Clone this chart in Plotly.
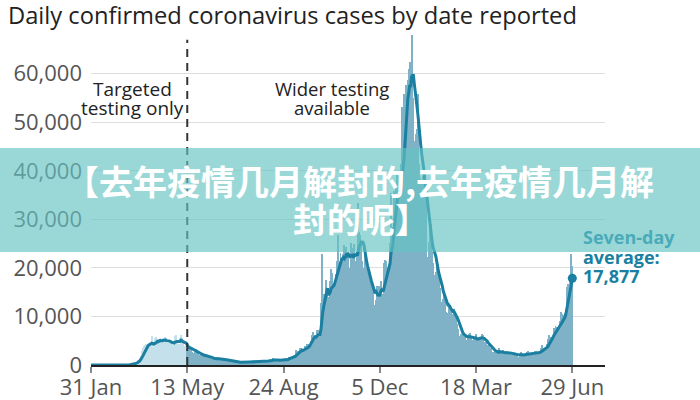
import pandas as pd
import plotly.graph_objects as go

# ---------------- data (daily confirmed cases by date reported) ----------------
jan2020 = [2]
feb2020 = [0,0,0,0,0,1,1,0,4,0, 0,1,0,0,0,0,0,0,0,0, 0,0,0,0,4,0,2,5,3]
mar2020 = [13,4,11,34,30,48,43,67,46,50, 83,134,117,208,342,251,152,407,676,643,
           1035,1100,1500,1900,2300,2900,3500,3900,4100,4300, 4400]
apr2020 = [4324,4244,4450,3735,5903,3802,3634,5491,4344,5706, 5233,5288,4342,5252,4603,4617,5599,5525,5850,4676,
           4301,4451,4583,5386,4913,4463,4309,3996,4076,6032]
may2020 = [6201,4806,4339,3985,4406,6111,5614,4649,3896,3923, 3877,3403,3242,3446,3560,3451,3142,2684,2412,2472,
           2615,3287,2959,2405,1625,2004,2013,1887,2095,2445, 1936]
jun2020 = [1570,1653,1871,1805,1650,1557,1326,1205,1387,1003, 1266,1541,1425,1514,1056,1279,1115,1218,1346,1295,
           1221,958,874,653,1118,1006,890,901,815,689]
jul2020 = [829,576,544,624,516,352,581,630,612,512, 820,650,530,598,538,642,687,827,580,560,
           445,584,769,798,767,716,685,581,763,846, 880]
aug2020 = [743,744,938,670,892,950,871,758,1062,816, 1148,1009,1441,1012,1077,1040,713,1089,812,1182,
           1033,1288,1041,853,1184,1048,1522,1276,1108,1715, 1406]
sep2020 = [1295,1508,1735,1940,1813,2988,2948,2460,2659,2919, 3539,3497,3330,2621,3105,3991,3395,4322,4422,3899,
           4368,4926,6178,6634,6874,6042,5693,4044,7143,7108]
oct2020 = [6914,6968,12872,22961,12594,14542,14162,17540,13864,15166, 12872,13972,17234,19724,18980,15650,16171,16982,18804,21331,
           26688,21242,20530,23012,19790,20890,22885,24701,23065,24405, 21915]
nov2020 = [23254,18950,20018,25177,24141,23287,24957,20572,21350,20412, 22950,33470,27301,26860,24962,21363,20051,19609,22915,20252,
           19875,18662,15450,11299,18213,17555,16022,15871,12155,12330]
dec2020 = [13430,16170,14879,16298,15539,17272,14718,12282,16578,20964, 21672,21502,18447,20263,18450,25161,35383,28507,27052,35928,
           33364,36804,39237,39036,32725,34693,30501,41385,53135,50023, 55892]
jan2021 = [53285,57725,54990,58784,60916,62322,52618,68053,59937,54940, 46169,45533,47525,48682,55761,41346,38598,37535,33355,38905,
           37892,40261,33552,30004,22195,20089,25308,28680,29079,23275, 21088]
feb2021 = [18607,16840,19202,20634,19114,18262,15845,14104,12364,13013, 13494,15144,13308,10972,9765,10625,12718,12057,12027,10406,
           9834,10641,8489,9938,9985,8523,7434,6035]
mar2021 = [5455,6391,5766,6573,6609,6040,5177,4712,5766,6305, 6036,6609,5534,4618,5089,5294,5758,6303,4802,5587,
           5312,5342,5379,6397,6187,4726,4715,3862,4654,4040, 4052]
apr2021 = [4479,3402,3423,2297,2762,2379,2763,3150,3060,2589, 1730,3568,2472,2491,2672,3030,2206,1882,2963,2524,
           2396,2729,2678,2061,1712,2685,1946,2166,2381,2445]
may2021 = [1907,1671,1649,1946,2613,2490,2047,2029,1770,2357, 2284,2657,2896,2193,2027,1926,2439,2412,2696,2874,
           2829,2694,1979,2493,2439,3180,3542,4182,3398,3240, 3165]
jun2021 = [3383,4330,5274,6238,5765,5341,5683,6048,7540,7393, 8125,7738,7490,7742,7673,9055,11007,10476,10321,9284,
           10633,11625,16135,16703,15810,18270,14876,22868,20479]

month_starts = ["2020-01-31", "2020-02-01", "2020-03-01", "2020-04-01", "2020-05-01", "2020-06-01",
                "2020-07-01", "2020-08-01", "2020-09-01", "2020-10-01", "2020-11-01", "2020-12-01",
                "2021-01-01", "2021-02-01", "2021-03-01", "2021-04-01", "2021-05-01", "2021-06-01"]
month_values = [jan2020, feb2020, mar2020, apr2020, may2020, jun2020, jul2020, aug2020, sep2020,
                oct2020, nov2020, dec2020, jan2021, feb2021, mar2021, apr2021, may2021, jun2021]

tick_dates = ["2020-01-31", "2020-05-13", "2020-08-24", "2020-12-05", "2021-03-18", "2021-06-29"]
tick_labels = ["31 Jan", "13 May", "24 Aug", "5 Dec", "18 Mar", "29 Jun"]
y_ticks = [0, 10000, 20000, 30000, 40000, 50000, 60000]
wider_testing_date = "2020-05-13"

# ---------------- build series ----------------
parts = []
for start, vals in zip(month_starts, month_values):
    parts.append(pd.Series(vals, index=pd.date_range(start, periods=len(vals), freq="D")))
cases = pd.concat(parts)
avg7 = cases.rolling(7, min_periods=1).mean()

split = pd.Timestamp(wider_testing_date)
early = cases[cases.index < split]
late = cases[cases.index >= split]

# ---------------- figure ----------------
W, H = 700, 400
L, R, T, B = 91, 95, 30, 35
PW, PH = W - L - R, H - T - B
def px(x):
    return (x - L) / PW
def py(y):
    return (H - B - y) / PH

FONT = "Open Sans"
LINE_C = "#1b7fa1"

fig = go.Figure()
fig.add_trace(go.Bar(x=early.index, y=early.values, marker=dict(color="#c4e0ea", line=dict(width=0)),
                     hoverinfo="skip"))
fig.add_trace(go.Bar(x=late.index, y=late.values, marker=dict(color="#7fb1c7", line=dict(width=0)),
                     hoverinfo="skip"))
fig.add_trace(go.Scatter(x=avg7.index, y=avg7.values, mode="lines",
                         line=dict(color=LINE_C, width=3), hoverinfo="skip"))
fig.add_trace(go.Scatter(x=[avg7.index[-1]], y=[avg7.values[-1]], mode="markers",
                         marker=dict(color=LINE_C, size=9), hoverinfo="skip"))

fig.update_layout(
    width=W, height=H, showlegend=False, bargap=0,
    margin=dict(l=L, r=R, t=T, b=B, autoexpand=False),
    paper_bgcolor="white", plot_bgcolor="white",
    font=dict(family=FONT, color="#555555", size=22),
    title=dict(text="Daily confirmed coronavirus cases by date reported",
               x=8 / W, xanchor="left", y=1 - 16 / H, yanchor="middle",
               font=dict(family=FONT, size=23.7, color="#222222")),
    xaxis=dict(type="date", range=["2020-01-31", "2021-08-03"], automargin=False,
               tickvals=tick_dates, ticktext=tick_labels,
               ticks="outside", ticklen=6, tickwidth=1.5, tickcolor="#888888",
               ticklabelstandoff=-4,
               showline=True, linecolor="#222222", linewidth=2,
               showgrid=False, zeroline=False,
               tickfont=dict(size=22, color="#555555")),
    yaxis=dict(range=[0, 69000], tickvals=y_ticks, automargin=False,
               ticktext=[f"{v:,}" for v in y_ticks],
               showgrid=True, gridcolor="#dedede", gridwidth=1,
               zeroline=False, ticks="", ticklabelstandoff=8,
               tickfont=dict(size=22, color="#555555")),
)

shapes = [
    dict(type="line", xref="x", yref="y", x0=wider_testing_date, x1=wider_testing_date,
         y0=0, y1=67000, line=dict(color="#333333", width=2, dash="8px,6px"), layer="above"),
    dict(type="rect", xref="paper", yref="paper", x0=px(0), x1=px(W), y0=py(252), y1=py(148),
         fillcolor="rgba(100,195,195,0.65)", line=dict(width=0), layer="above"),
]
fig.update_layout(shapes=shapes)

def ann(text, x, y, size, color, bold=False, xanchor="center", family=FONT):
    fig.add_annotation(text=f"<b>{text}</b>" if bold else text, xref="paper", yref="paper",
                       x=px(x), y=py(y), xanchor=xanchor, yanchor="middle", showarrow=False,
                       font=dict(family=family, size=size, color=color))

ann("Targeted", 132, 89, 19, "#222222")
ann("testing only", 132, 108, 19, "#222222")
ann("Wider testing", 332, 88, 18.5, "#222222")
ann("available", 332, 108, 18.5, "#222222")
ann("Seven-day", 581, 237, 18, "#4aabb8", bold=True, xanchor="left")
ann("average:", 581, 257, 18, LINE_C, bold=True, xanchor="left")
ann(f"{avg7.values[-1]:,.0f}", 581, 276, 18, LINE_C, bold=True, xanchor="left")

CJK = "Noto Sans CJK SC"
ann("【去年疫情几月解封的,去年疫情几月解", 359, 180, 34, "white", bold=True, family=CJK)
ann("封的呢】", 361, 219, 34, "white", bold=True, family=CJK)

fig.write_html("out.html", config={"displayModeBar": False},
               post_script="document.body.style.margin='0px';")
